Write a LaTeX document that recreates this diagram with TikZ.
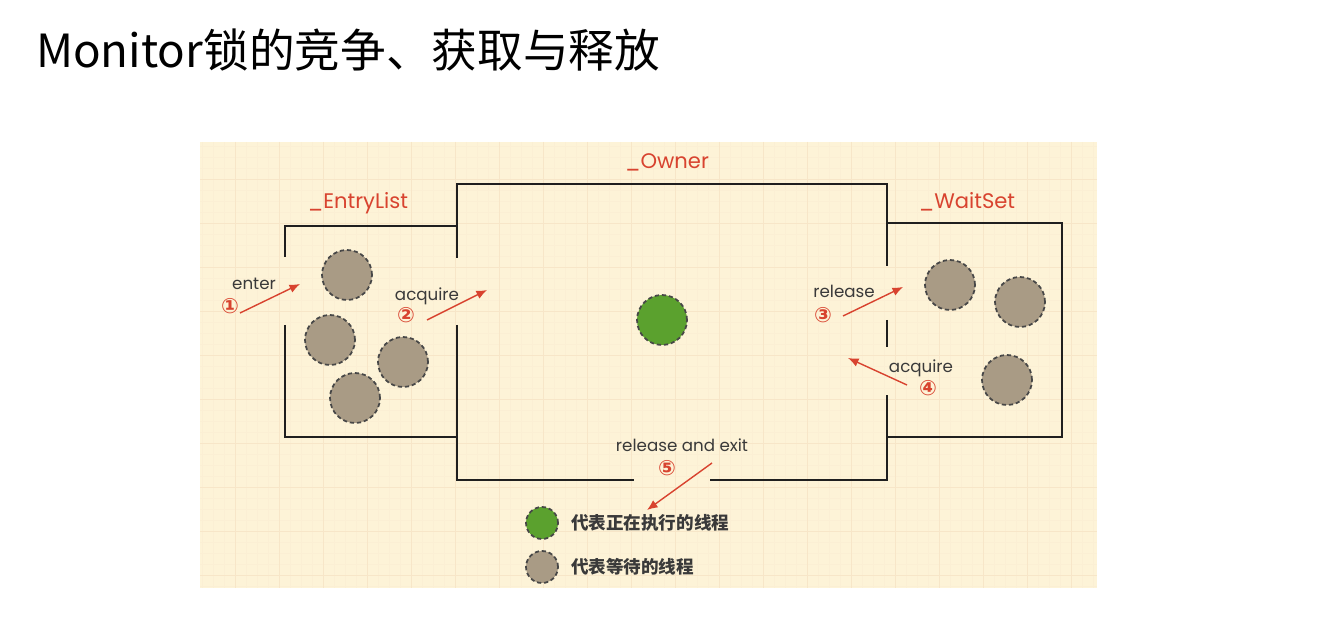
\documentclass[tikz,border=0pt]{standalone}
\usepackage{fontspec}
\setmainfont{Poppins}
\newfontfamily\cjkfont{Noto Sans CJK SC}
\newfontfamily\circfont{DejaVu Sans}
\usetikzlibrary{positioning,arrows.meta}
\definecolor{paper}{HTML}{FDF3D7}
\definecolor{gridmin}{HTML}{FBEFD4}
\definecolor{gridmaj}{HTML}{F7E6C8}
\definecolor{lblred}{HTML}{D8432F}
\definecolor{waitgray}{HTML}{A99B85}
\definecolor{rungreen}{HTML}{5BA12E}
\definecolor{txtgray}{HTML}{3A3A3A}
\tikzset{
  wall/.style ={line width=1.6pt, draw=black!88},
  wt/.style   ={circle, draw=black!72, dash pattern=on 2.4pt off 1.6pt, line width=1pt, fill=waitgray, minimum size=1.0cm, inner sep=0pt},
  run/.style  ={wt, fill=rungreen},
  lbl/.style  ={text=lblred, font=\fontsize{12}{14}\selectfont},
  act/.style  ={text=txtgray, font=\fontsize{9.5}{11}\selectfont},
  num/.style  ={text=lblred, font=\circfont\bfseries\fontsize{12}{14}\selectfont},
  legt/.style ={text=txtgray, font=\cjkfont\bfseries\fontsize{10}{12}\selectfont},
  e/.style    ={-{Latex[length=6pt,width=5pt]}, draw=lblred, line width=0.8pt},
}

\begin{document}
\begin{tikzpicture}[x=0.02cm, y=-0.02cm]
\useasboundingbox (0,0) rectangle (1318,617);
\node[anchor=west, font=\cjkfont\fontsize{26}{30}\selectfont] (title) at (30,50) {Monitor锁的竞争、获取与释放};

% paper and grid
\fill[paper] (200,142) rectangle (1097,588);
\begin{scope}
\clip (200,142) rectangle (1097,588);
\foreach \gx in {202,213,...,1097} \draw[gridmin, line width=0.3pt] (\gx,142) -- (\gx,588);
\foreach \gy in {146,157,...,588} \draw[gridmin, line width=0.3pt] (200,\gy) -- (1097,\gy);
\foreach \gx in {235,279,...,1097} \draw[gridmaj, line width=0.5pt] (\gx,142) -- (\gx,588);
\foreach \gy in {179,223,...,588} \draw[gridmaj, line width=0.5pt] (200,\gy) -- (1097,\gy);
\end{scope}

% _EntryList
\draw[wall] (285,257) -- (285,226) -- (457,226);
\draw[wall] (285,325) -- (285,437) -- (457,437);
% _Owner
\draw[wall] (457,258) -- (457,184) -- (887,184) -- (887,266);
\draw[wall] (457,325) -- (457,480) -- (634,480);
\draw[wall] (710,480) -- (887,480) -- (887,395);
\draw[wall] (887,320) -- (887,347);
% _WaitSet
\draw[wall] (887,223) -- (1062,223) -- (1062,437) -- (887,437);

\node[lbl] (entrylbl) at (358,203) {\_EntryList};
\node[lbl] (ownerlbl) at (667,162) {\_Owner};
\node[lbl] (waitlbl)  at (967,202) {\_WaitSet};

% threads
\node[wt] (el1) at (347,275) {};
\node[wt] (el2) at (330,340) {};
\node[wt] (el3) at (403,362) {};
\node[wt] (el4) at (355,398) {};
\node[run] (own) at (662,320) {};
\node[wt] (ws1) at (950,285) {};
\node[wt] (ws2) at (1020,302) {};
\node[wt] (ws3) at (1007,380) {};

% transitions
\coordinate (enterA) at (240,313);  \coordinate (enterB) at (300,284);
\coordinate (acqA)   at (427,320);  \coordinate (acqB)   at (487,290);
\coordinate (relA)   at (843,316);  \coordinate (relB)   at (903,287);
\coordinate (wacqA)  at (907,385);  \coordinate (wacqB)  at (848,358);
\coordinate (exitA)  at (712,463);  \coordinate (exitB)  at (647,510);
\draw[e] (enterA) -- (enterB);
\draw[e] (acqA) -- (acqB);
\draw[e] (relA) -- (relB);
\draw[e] (wacqA) -- (wacqB);
\draw[e] (exitA) -- (exitB);

\node[act] (enter) at (254,284) {enter};
\node[num] (n1) at (230,306) {①};
\node[act] (acq) at (427,296) {acquire};
\node[num] (n2) at (406,315) {②};
\node[act] (rel) at (844,291) {release};
\node[num] (n3) at (823,315) {③};
\node[act] (wacq) at (921,368) {acquire};
\node[num] (n4) at (928,388) {④};
\node[act] (exit) at (682,445) {release and exit};
\node[num] (n5) at (667,468) {⑤};

% legend
\node[run, minimum size=0.64cm] (lgrun) at (542,523) {};
\node[legt, right=0.12cm of lgrun] (lgruntxt) {代表正在执行的线程};
\node[wt, minimum size=0.64cm] (lgwt) at (542,567) {};
\node[legt, right=0.12cm of lgwt] (lgwttxt) {代表等待的线程};
\end{tikzpicture}
\end{document}
